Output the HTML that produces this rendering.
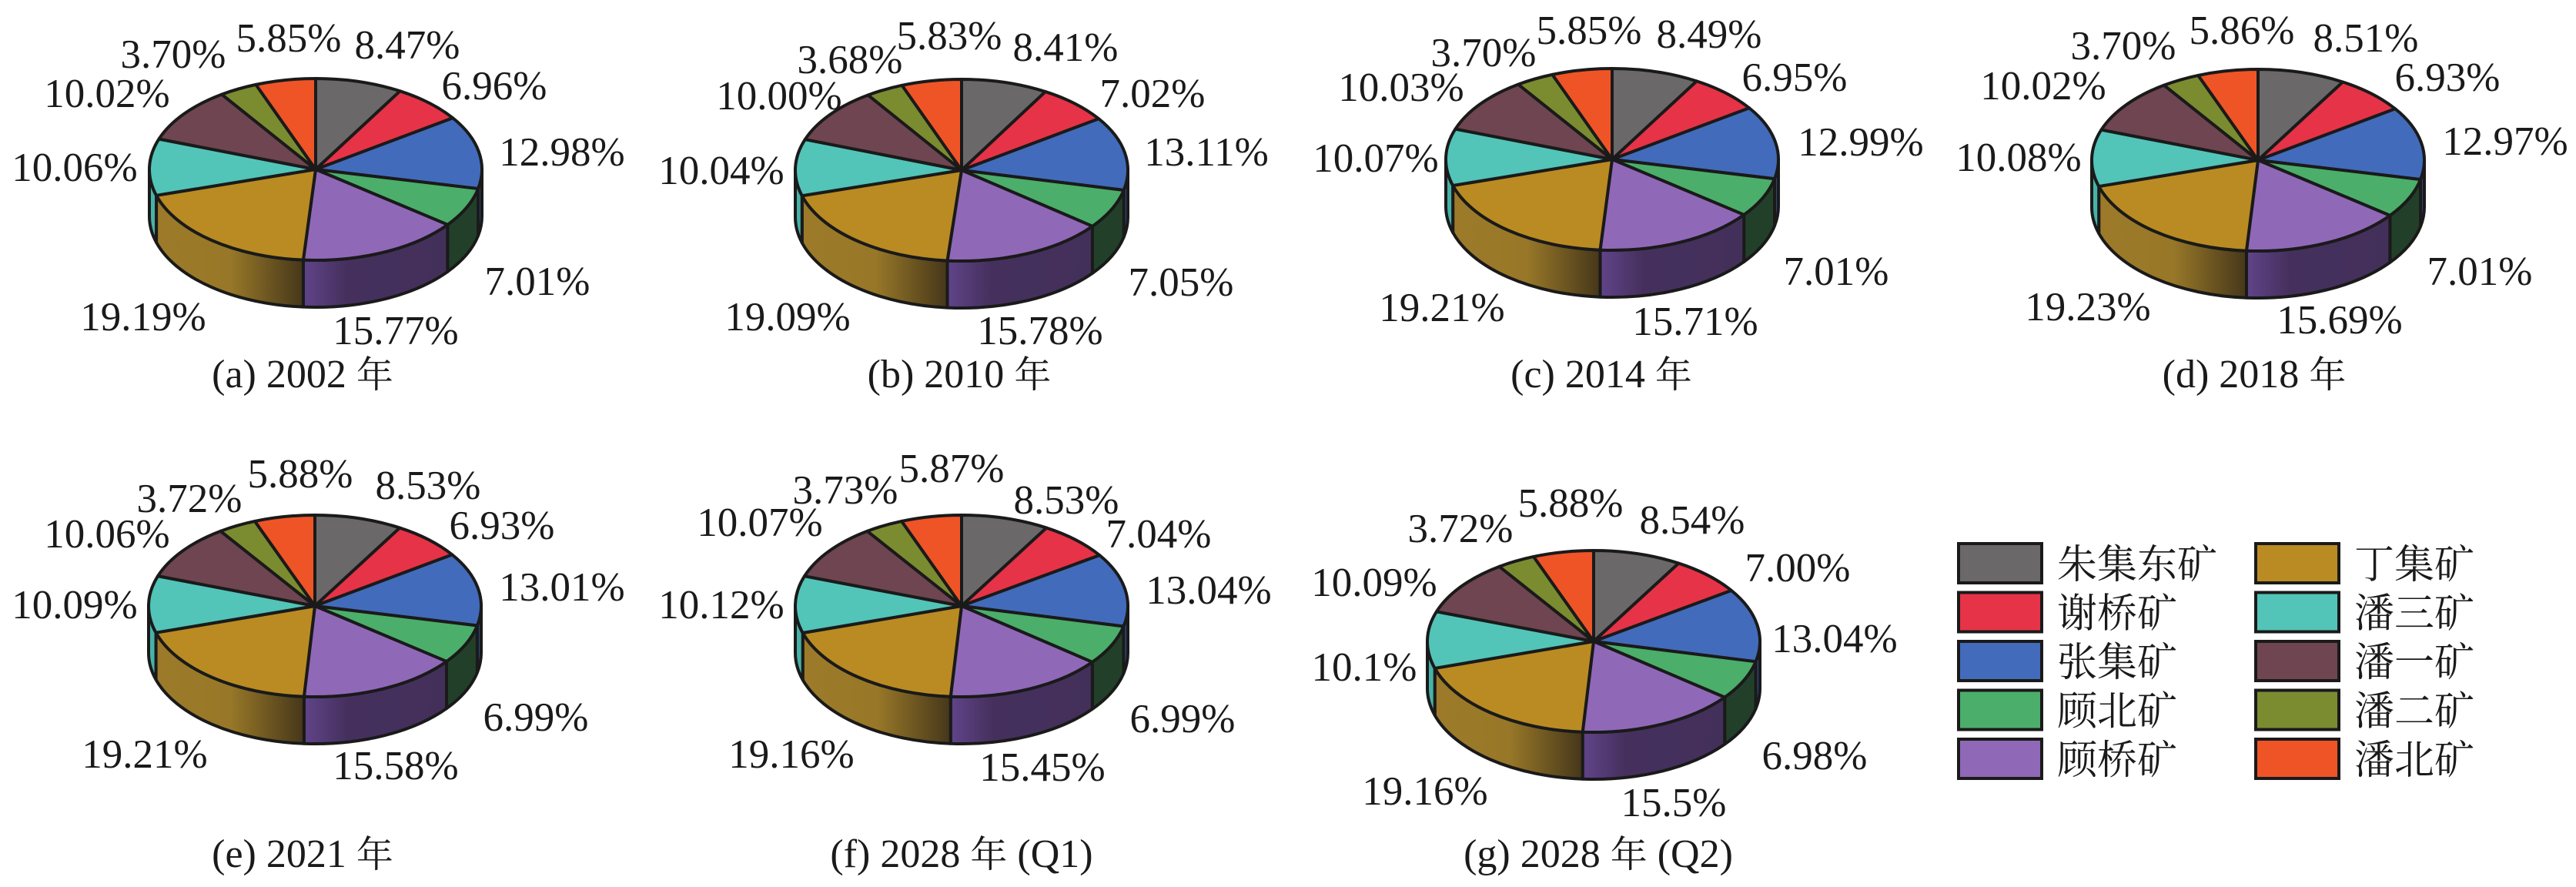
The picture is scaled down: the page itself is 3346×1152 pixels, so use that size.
<!DOCTYPE html>
<html><head><meta charset="utf-8"><title>Pie charts</title>
<style>
html,body{margin:0;padding:0;background:#fff;}
svg{display:block;}
text{font-family:"Liberation Serif","Noto Serif CJK SC",serif;fill:#1a1a1a;}
.cjk{font-family:"Noto Serif CJK SC","Liberation Serif",serif;}
</style></head>
<body>
<svg id="chart" width="3346" height="1152" viewBox="0 0 3346 1152" xmlns="http://www.w3.org/2000/svg">
<defs>
<linearGradient id="gSideGold" x1="0" y1="0" x2="1" y2="0">
<stop offset="0" stop-color="#9c7a2a"/><stop offset="0.5" stop-color="#987828"/><stop offset="1" stop-color="#46371a"/>
</linearGradient>
<linearGradient id="gSidePurple" x1="0" y1="0" x2="1" y2="0">
<stop offset="0" stop-color="#604489"/><stop offset="0.3" stop-color="#45305d"/><stop offset="1" stop-color="#43305a"/>
</linearGradient>
</defs>
<g id="pies"></g>
<g id="legend"></g>
</svg>
<script>
const categories = ["朱集东矿","谢桥矿","张集矿","顾北矿","顾桥矿","丁集矿","潘三矿","潘一矿","潘二矿","潘北矿"];
const valuesA = ["8.47","6.96","12.98","7.01","15.77","19.19","10.06","10.02","3.70","5.85"];
const valuesB = ["8.41","7.02","13.11","7.05","15.78","19.09","10.04","10.00","3.68","5.83"];
const valuesC = ["8.49","6.95","12.99","7.01","15.71","19.21","10.07","10.03","3.70","5.85"];
const valuesD = ["8.51","6.93","12.97","7.01","15.69","19.23","10.08","10.02","3.70","5.86"];
const valuesE = ["8.53","6.93","13.01","6.99","15.58","19.21","10.09","10.06","3.72","5.88"];
const valuesF = ["8.53","7.04","13.04","6.99","15.45","19.16","10.12","10.07","3.73","5.87"];
const valuesG = ["8.54","7.00","13.04","6.98","15.5","19.16","10.1","10.09","3.72","5.88"];
const captionLabels = ["(a) 2002 ","(b) 2010 ","(c) 2014 ","(d) 2018 ","(e) 2021 ","(f) 2028 ","(g) 2028 "];
const captionSuffix = ["","","","","","(Q1)","(Q2)"];

const topColors = ["#6a6869","#e63347","#426bbb","#4bae6a","#9068b8","#b98b22","#52c4b8","#6e4550","#7b8b30","#ef5427"];
const sideColors = ["#4a4849","#a02232","#2e4a85","#224029","url(#gSidePurple)","url(#gSideGold)","#47b3a8","#4a2e36","#55611f","#a83a1b"];

const RX = 216, RY = 118, DEPTH = 61;
const layouts = [
 {vals:valuesA, cx:410, cy:220, capX:393, capY:503, off:[[119,-163],[232,-110],[320,-24],[288,144],[104,208],[-224,190],[-313,-4],[-271,-100],[-185,-151],[-35,-172]]},
 {vals:valuesB, cx:1249, cy:221, capX:1246, capY:503, off:[[135,-161],[248,-101],[318,-25],[285,144],[102,207],[-226,189],[-312,-1],[-237,-98],[-145,-145],[-16,-176]]},
 {vals:valuesC, cx:2094, cy:207, capX:2080, capY:503, off:[[126,-164],[237,-108],[323,-24],[291,144],[108,209],[-221,191],[-307,-3],[-274,-95],[-167,-140],[-30,-169]]},
 {vals:valuesD, cx:2933, cy:208, capX:2928, capY:503, off:[[140,-160],[246,-109],[321,-26],[288,143],[106,206],[-221,189],[-311,-5],[-279,-98],[-175,-150],[-21,-170]]},
 {vals:valuesE, cx:409, cy:787, capX:393, capY:1126, off:[[147,-158],[243,-106],[321,-26],[287,143],[105,206],[-221,191],[-312,-3],[-270,-95],[-163,-141],[-19,-173]]},
 {vals:valuesF, cx:1249, cy:787, capX:1249, capY:1126, off:[[136,-139],[256,-95],[321,-22],[287,145],[105,208],[-221,191],[-312,-3],[-262,-110],[-151,-152],[-13,-180]]},
 {vals:valuesG, cx:2070, cy:833, capX:2076, capY:1126, off:[[128,-159],[265,-97],[313,-5],[287,147],[104,208],[-219,193],[-298,32],[-285,-78],[-173,-148],[-30,-181]]}
];
const NS = "http://www.w3.org/2000/svg";
const piesG = document.getElementById("pies");

function pt(cx, cy, deg, dy) {
  const r = deg * Math.PI / 180;
  return [cx + RX * Math.sin(r), cy - RY * Math.cos(r) + (dy || 0)];
}
function f(n){return n.toFixed(2);}

layouts.forEach(function(L, ci){
  const g = document.createElementNS(NS, "g");
  
  
  piesG.appendChild(g);
  const nums = L.vals.map(parseFloat);
  const total = nums.reduce(function(a,b){return a+b;},0);
  const angles = [];
  let acc = 0;
  nums.forEach(function(v){ const a1 = acc/total*360; acc += v; angles.push([a1, acc/total*360]); });
  angles.forEach(function(a, i){
    const s = Math.max(a[0], 90), e = Math.min(a[1], 270);
    if (s >= e) return;
    const p1 = pt(L.cx, L.cy, s), p2 = pt(L.cx, L.cy, e);
    const b2 = pt(L.cx, L.cy, e, DEPTH), b1 = pt(L.cx, L.cy, s, DEPTH);
    const d = "M"+f(p1[0])+","+f(p1[1])+" A"+RX+","+RY+" 0 0 1 "+f(p2[0])+","+f(p2[1])+
      " L"+f(b2[0])+","+f(b2[1])+" A"+RX+","+RY+" 0 0 0 "+f(b1[0])+","+f(b1[1])+" Z";
    const p = document.createElementNS(NS, "path");
    
    
    p.setAttribute("d", d);
    p.setAttribute("fill", sideColors[i]);
    p.setAttribute("stroke", "#1a1a1a");
    p.setAttribute("stroke-width", "4");
    p.setAttribute("stroke-linejoin", "round");
    g.appendChild(p);
  });
  angles.forEach(function(a, i){
    const p1 = pt(L.cx, L.cy, a[0]), p2 = pt(L.cx, L.cy, a[1]);
    const large = (a[1]-a[0]) > 180 ? 1 : 0;
    const d = "M"+L.cx+","+L.cy+" L"+f(p1[0])+","+f(p1[1])+" A"+RX+","+RY+" 0 "+large+" 1 "+f(p2[0])+","+f(p2[1])+" Z";
    const p = document.createElementNS(NS, "path");
    
    
    p.setAttribute("d", d);
    p.setAttribute("fill", topColors[i]);
    p.setAttribute("stroke", "#1a1a1a");
    p.setAttribute("stroke-width", "4");
    p.setAttribute("stroke-linejoin", "round");
    g.appendChild(p);
  });
  L.vals.forEach(function(v, i){
    const t = document.createElementNS(NS, "text");
    
    
    t.setAttribute("x", L.cx + L.off[i][0]);
    t.setAttribute("y", L.cy + L.off[i][1] + 19);
    t.setAttribute("text-anchor", "middle");
    t.setAttribute("font-size", "53");
    t.textContent = v + "%";
    g.appendChild(t);
  });
  const c = document.createElementNS(NS, "text");
  
  
  c.setAttribute("x", L.capX);
  c.setAttribute("y", L.capY);
  c.setAttribute("text-anchor", "middle");
  c.setAttribute("font-size", "52");
  const t1 = document.createElementNS(NS, "tspan"); t1.textContent = captionLabels[ci]; c.appendChild(t1);
  const t2 = document.createElementNS(NS, "tspan"); t2.setAttribute("class","cjk"); t2.setAttribute("font-size","48"); t2.textContent = "年"; c.appendChild(t2);
  if (captionSuffix[ci]) { const t3 = document.createElementNS(NS, "tspan"); t3.textContent = " " + captionSuffix[ci]; c.appendChild(t3); }
  g.appendChild(c);
});

const legendG = document.getElementById("legend");
categories.forEach(function(name, i){
  const col = Math.floor(i/5), row = i % 5;
  const x = col === 0 ? 2544 : 2930;
  const y = 706 + row * 63.5;
  const r = document.createElementNS(NS, "rect");
  
  
  r.setAttribute("x", x); r.setAttribute("y", y);
  r.setAttribute("width", 108); r.setAttribute("height", 51);
  r.setAttribute("fill", topColors[i]);
  r.setAttribute("stroke", "#1a1a1a"); r.setAttribute("stroke-width", "4");
  legendG.appendChild(r);
  const t = document.createElementNS(NS, "text");
  
  
  t.setAttribute("class", "cjk");
  t.setAttribute("x", x + 128); t.setAttribute("y", y + 45);
  t.setAttribute("font-size", "52");
  t.textContent = name;
  legendG.appendChild(t);
});
</script>
</body></html>
